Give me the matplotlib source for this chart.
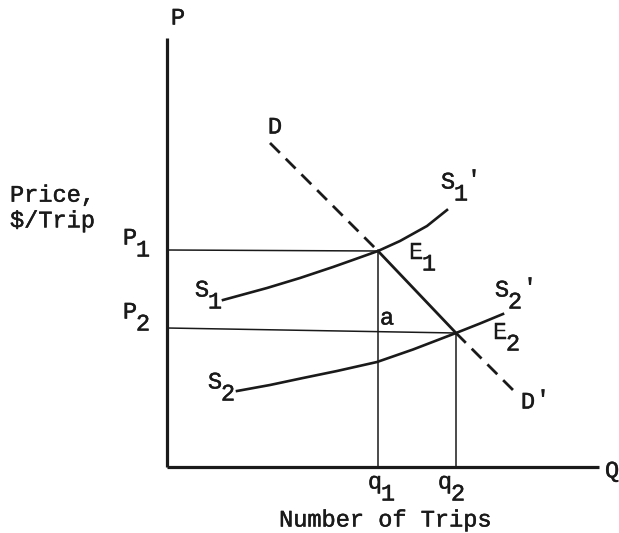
import matplotlib
matplotlib.use("Agg")
import matplotlib.pyplot as plt
import matplotlib.transforms as mtransforms
import matplotlib.patheffects as pe

plt.rcParams['font.family'] = ['Liberation Mono', 'DejaVu Sans']

# curve data (units: screen-like, origin at the axes corner)
axis_p_top = 429
axis_q_end = 432

d_x = [103, 211, 289, 351]          # D ... E1 ... E2 ... D'
d_y = [324, 216, 134, 72]

s1_x = [56, 100, 133, 166, 190, 211, 233, 260, 280]
s1_y = [167, 179, 189, 200, 208.5, 216, 226, 241, 257]

s2_x = [70, 103, 136, 170, 210, 246, 289, 313, 336]
s2_y = [76, 82, 89, 96, 105, 117.5, 134, 143.5, 153]

q1, p1 = 211, 216     # E1
q2, p2 = 289, 134     # E2

fig = plt.figure(figsize=(6.19, 5.33), dpi=100)
ax = fig.add_axes([0, 0, 1, 1])
ax.set_xlim(-167, 619 - 167)
ax.set_ylim(467 - 533, 467)
ax.axis('off')

ink = '#1a1a1a'
fs = 17
thick = [pe.withStroke(linewidth=0.35, foreground=ink)]

# axes
ax.plot([0, 0], [0, axis_p_top], color=ink, lw=2.3, solid_capstyle='butt')
ax.plot([0, axis_q_end], [0, 0], color=ink, lw=2.3, solid_capstyle='butt')

# guide lines
ax.plot([0, q1], [p1 + 1, p1], color=ink, lw=1.1)
ax.plot([0, q2], [p2 + 5, p2], color=ink, lw=1.1)
ax.plot([q1, q1], [0, p1], color=ink, lw=1.1)
ax.plot([q2, q2], [0, p2], color=ink, lw=1.1)

# demand: dashed outside, solid between E1 and E2
ax.plot(d_x[:2], d_y[:2], color=ink, lw=2.0, dashes=(5, 3))
ax.plot(d_x[1:3], d_y[1:3], color=ink, lw=2.0)
ax.plot(d_x[2:], d_y[2:], color=ink, lw=2.0, dashes=(5, 3))

# supply curves
ax.plot(s1_x, s1_y, color=ink, lw=1.9, solid_joinstyle='round')
ax.plot(s2_x, s2_y, color=ink, lw=1.9, solid_joinstyle='round')


def txt(x, y, s, tr=None, **kw):
    kw.setdefault('ha', 'center')
    kw.setdefault('va', 'center')
    ax.text(x, y, s, fontsize=fs, color=ink, path_effects=thick,
            transform=tr or ax.transData, **kw)


def lab(x, y, main, sub=None, prime=False, pdx=26):
    txt(x, y, main)
    if sub:
        txt(x, y, sub, mtransforms.offset_copy(ax.transData, fig=fig, x=13, y=-12, units='dots'))
    if prime:
        txt(x, y, "'", mtransforms.offset_copy(ax.transData, fig=fig, x=pdx, y=2, units='dots'))


lab(11, 449, 'P')
txt(438, -4, 'Q', ha='left')
txt(-157, 259, 'Price,\n$/Trip', ha='left', linespacing=1.15)

lab(-37, 229, 'P', '1')
lab(-37, 155, 'P', '2')
lab(35, 177, 'S', '1')
lab(48, 85, 'S', '2')
lab(281, 285, 'S', '1', prime=True)
lab(335, 177, 'S', '2', prime=True, pdx=28)
lab(249, 215, 'E', '1')
lab(333, 135, 'E', '2')
lab(220, 149, 'a')
lab(108, 340, 'D')
lab(361, 65, 'D', prime=True, pdx=15)
lab(208, -15, 'q', '1')
lab(278, -15, 'q', '2')
txt(218, -53, 'Number of Trips')

fig.savefig('out.png', dpi=100)
